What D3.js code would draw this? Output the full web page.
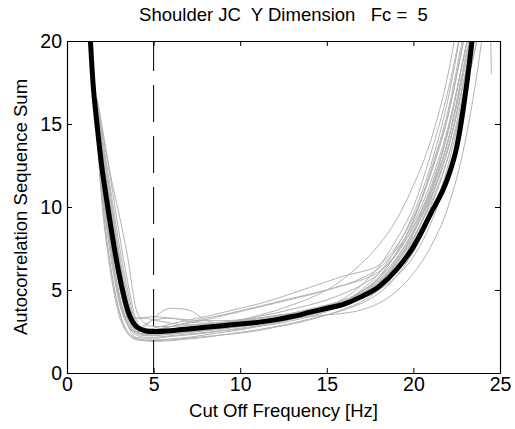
<!DOCTYPE html>
<html>
<head>
<meta charset="utf-8">
<script src="https://cdn.jsdelivr.net/npm/d3@7/dist/d3.min.js"></script>
<style>
  html, body { margin: 0; padding: 0; background: #fff; }
  svg { display: block; }
  text { font-family: "Liberation Sans", Arial, sans-serif; fill: #000; white-space: pre; }
</style>
</head>
<body>
<svg id="chart" width="515" height="429"></svg>
<script>
// ---- data ----
const title = "Shoulder JC  Y Dimension   Fc =  5";
const xLabel = "Cut Off Frequency [Hz]";
const yLabel = "Autocorrelation Sequence Sum";
const xTicks = [0, 5, 10, 15, 20, 25];
const yTicks = [0, 5, 10, 15, 20];
const cutoff = 5;

const greyFreq = [1.75, 2, 2.5, 3, 3.5, 4, 4.5, 5, 6, 7, 8, 9, 10, 11, 12, 13, 14, 15, 16, 17, 18, 19, 20, 21, 22, 23, 24, 24.5];
const grey01 = [14.5, 11.0, 6.5, 3.8, 2.4, 2.0, 1.95, 1.95, 2.0, 2.1, 2.2, 2.3, 2.4, 2.55, 2.75, 2.95, 3.2, 3.5, 3.85, 4.3, 5.0, 6.1, 7.7, 10.0, 13.0, 17.5, 23, 27];
const grey02 = [15.5, 12.5, 8.0, 4.8, 2.9, 2.15, 2.1, 2.1, 2.2, 2.3, 2.4, 2.55, 2.7, 2.85, 3.05, 3.25, 3.5, 3.8, 4.1, 4.6, 5.4, 6.6, 8.4, 10.8, 14.0, 19.0, 24, 28];
const grey03 = [16.2, 13.8, 10.0, 6.8, 3.9, 2.5, 2.3, 2.3, 2.4, 2.5, 2.6, 2.7, 2.8, 2.95, 3.1, 3.3, 3.55, 3.9, 4.3, 5.0, 6.0, 7.5, 9.6, 12.5, 16.5, 22, 27, 30];
const grey04 = [16.5, 15.0, 12.0, 9.6, 7.0, 3.8, 3.0, 2.8, 2.8, 2.85, 2.95, 3.05, 3.15, 3.3, 3.45, 3.6, 3.8, 4.0, 4.3, 4.8, 5.5, 6.6, 8.2, 10.2, 13.0, 17.0, 22, 26];
const grey05 = [15.8, 13.2, 9.0, 5.5, 3.3, 2.6, 2.8, 3.3, 3.9, 3.8, 3.2, 2.9, 2.9, 3.0, 3.15, 3.35, 3.6, 3.9, 4.3, 4.9, 5.8, 7.2, 9.2, 12.0, 15.5, 20.5, 25, 29];
const grey06 = [15.0, 12.0, 7.8, 4.6, 3.3, 3.3, 3.3, 3.2, 3.0, 2.9, 2.9, 3.0, 3.1, 3.25, 3.4, 3.6, 3.85, 4.1, 4.4, 4.9, 5.6, 6.8, 8.6, 11.0, 14.5, 19.5, 24, 28];
const grey07 = [15.5, 12.8, 9.2, 6.0, 3.6, 2.7, 2.6, 2.7, 2.95, 3.2, 3.4, 3.65, 3.9, 4.15, 4.45, 4.8, 5.15, 5.5, 5.85, 6.1, 6.5, 7.6, 9.4, 12.0, 15.5, 20.5, 25, 29];
const grey08 = [14.8, 11.5, 7.5, 4.5, 2.9, 2.4, 2.35, 2.45, 2.8, 3.05, 3.3, 3.5, 3.75, 4.0, 4.25, 4.5, 4.75, 5.0, 5.3, 5.6, 6.1, 7.1, 8.8, 11.2, 14.6, 19.5, 24, 28];
const grey09 = [16.0, 14.0, 10.5, 7.0, 4.2, 2.7, 2.45, 2.45, 2.55, 2.7, 2.85, 3.0, 3.2, 3.45, 3.75, 4.1, 4.5, 5.0, 5.7, 6.6, 7.7, 9.2, 11.3, 14.0, 18.0, 24, 30, 34];
const grey10 = [14.0, 10.5, 6.2, 3.5, 2.4, 2.05, 2.0, 2.0, 2.05, 2.15, 2.3, 2.45, 2.6, 2.8, 3.0, 3.25, 3.55, 3.9, 4.3, 4.9, 5.7, 6.9, 8.5, 10.6, 13.6, 18.0, 23, 27];
const grey11 = [16.3, 14.5, 11.2, 7.8, 5.0, 3.0, 2.6, 2.55, 2.6, 2.7, 2.8, 2.9, 3.0, 3.1, 3.2, 3.3, 3.4, 3.5, 3.6, 3.8, 4.2, 4.9, 6.0, 7.6, 10.0, 14.0, 20.5, 25];
const grey12 = [15.6, 13.0, 9.6, 6.2, 3.6, 2.5, 2.35, 2.35, 2.45, 2.55, 2.65, 2.75, 2.9, 3.05, 3.2, 3.4, 3.6, 3.85, 4.1, 4.5, 5.0, 5.8, 7.0, 9.0, 12.0, 16.0, 40, 18];
const grey13 = [15.2, 12.3, 8.5, 5.3, 3.2, 2.4, 2.25, 2.25, 2.35, 2.45, 2.55, 2.65, 2.8, 2.95, 3.1, 3.3, 3.5, 3.75, 4.05, 4.5, 5.2, 6.3, 8.0, 10.4, 13.5, 18.0, 24, 28];
const grey14 = [15.0, 11.8, 7.8, 4.8, 3.0, 2.3, 2.15, 2.15, 2.25, 2.35, 2.45, 2.55, 2.65, 2.8, 2.95, 3.15, 3.4, 3.7, 4.1, 4.7, 5.7, 7.2, 9.2, 12.2, 15.8, 21.0, 26, 30];
const grey15 = [16.4, 14.8, 11.8, 8.5, 5.5, 3.2, 2.6, 2.5, 2.6, 2.75, 2.9, 3.05, 3.2, 3.4, 3.6, 3.85, 4.1, 4.4, 4.8, 5.3, 6.0, 7.2, 8.8, 11.0, 14.0, 18.5, 24, 28];
const grey16 = [16.0, 13.6, 10.2, 6.8, 3.9, 2.7, 2.9, 3.2, 3.3, 3.1, 3.0, 3.0, 3.05, 3.15, 3.3, 3.5, 3.7, 3.95, 4.25, 4.7, 5.4, 6.5, 8.1, 10.5, 13.5, 18.0, 23, 27];
const grey17 = [14.8, 11.5, 7.2, 4.3, 2.9, 2.5, 2.5, 2.6, 2.8, 3.0, 3.2, 3.45, 3.7, 3.95, 4.2, 4.45, 4.7, 5.0, 5.3, 5.7, 6.3, 7.4, 9.0, 11.5, 14.8, 19.5, 25, 29];
const grey18 = [14.2, 10.8, 6.5, 3.8, 2.5, 2.1, 1.95, 1.9, 1.95, 2.05, 2.15, 2.3, 2.45, 2.6, 2.8, 3.0, 3.25, 3.5, 3.8, 4.2, 4.8, 5.8, 7.3, 9.4, 12.5, 17.0, 22, 26];
const grey19 = [16.2, 14.2, 10.8, 7.3, 4.6, 2.8, 2.4, 2.3, 2.35, 2.45, 2.55, 2.7, 2.85, 3.0, 3.2, 3.4, 3.65, 4.0, 4.5, 5.3, 6.4, 8.0, 10.0, 13.2, 17.0, 22, 27, 30];
const grey20 = [15.8, 13.0, 9.4, 6.0, 3.6, 3.3, 3.35, 3.4, 3.3, 3.2, 3.15, 3.15, 3.2, 3.3, 3.45, 3.6, 3.8, 4.05, 4.35, 4.8, 5.5, 6.7, 8.4, 10.8, 14.0, 18.8, 24, 28];
const greySeries = [grey01, grey02, grey03, grey04, grey05, grey06, grey07, grey08, grey09, grey10,
                    grey11, grey12, grey13, grey14, grey15, grey16, grey17, grey18, grey19, grey20];

const meanFreq = [1.3, 1.5, 1.75, 2, 2.25, 2.5, 2.75, 3, 3.25, 3.5, 3.75, 4, 4.5, 5, 6, 7, 8, 9, 10, 11, 12, 13, 14, 15, 16, 17, 18, 19, 20, 21, 22, 22.5, 23, 23.5];
const meanVals = [21, 17.5, 14.8, 12.5, 10.7, 9.0, 7.4, 6.0, 4.8, 3.8, 3.15, 2.8, 2.55, 2.5, 2.55, 2.65, 2.75, 2.85, 2.95, 3.05, 3.2, 3.4, 3.65, 3.9, 4.15, 4.6, 5.2, 6.2, 7.6, 9.6, 11.8, 13.6, 16.8, 21];

(function () {
// ---- layout ----
const svg = d3.select("#chart");
const mLeft = 67, mRight = 500, mTop = 41, mBottom = 373;
const x = d3.scaleLinear().domain([0, 25]).range([mLeft, mRight]);
const y = d3.scaleLinear().domain([0, 20]).range([mBottom, mTop]);

svg.append("defs").append("clipPath").attr("id", "clip")
  .append("rect").attr("x", mLeft).attr("y", mTop).attr("width", mRight - mLeft).attr("height", mBottom - mTop);

const plot = svg.append("g").attr("clip-path", "url(#clip)");

const line = d3.line().curve(d3.curveMonotoneX);

greySeries.forEach(vals => {
  plot.append("path")
    .attr("d", line(vals.map((v, i) => [x(greyFreq[i]), y(v)])))
    .attr("fill", "none")
    .attr("stroke", "#b3b3b3")
    .attr("stroke-width", 1);
});

plot.append("path")
  .attr("d", line(meanVals.map((v, i) => [x(meanFreq[i]), y(v)])))
  .attr("fill", "none")
  .attr("stroke", "#000")
  .attr("stroke-width", 5)
  .attr("stroke-linejoin", "round");

// cutoff line
svg.append("line")
  .attr("x1", x(cutoff)).attr("x2", x(cutoff))
  .attr("y1", y(20)).attr("y2", y(0))
  .attr("stroke", "#000").attr("stroke-width", 1)
  .attr("stroke-dasharray", "37,14")
  .attr("stroke-dashoffset", 7);

// axes
const fontSize = 19.5;
const axB = svg.append("g").attr("transform", `translate(0,${mBottom})`)
  .call(d3.axisBottom(x).tickValues(xTicks).tickSizeInner(-5).tickSizeOuter(0).tickPadding(4).tickFormat(d3.format("d")));
const axL = svg.append("g").attr("transform", `translate(${mLeft},0)`)
  .call(d3.axisLeft(y).tickValues(yTicks).tickSizeInner(-5).tickSizeOuter(0).tickPadding(5).tickFormat(d3.format("d")));
const axT = svg.append("g").attr("transform", `translate(0,${mTop})`)
  .call(d3.axisTop(x).tickValues(xTicks).tickSizeInner(-5).tickSizeOuter(0).tickFormat(""));
const axR = svg.append("g").attr("transform", `translate(${mRight},0)`)
  .call(d3.axisRight(y).tickValues(yTicks).tickSizeInner(-5).tickSizeOuter(0).tickFormat(""));

[axB, axL, axT, axR].forEach(g => {
  g.selectAll("path.domain").attr("stroke", "#000").attr("stroke-width", 1.2);
  g.selectAll(".tick line").attr("stroke", "#000");
  g.selectAll(".tick text").style("font-family", "'Liberation Sans', Arial, sans-serif")
    .style("font-size", fontSize + "px").attr("fill", "#000");
});

svg.append("text")
  .attr("x", (mLeft + mRight) / 2).attr("y", 21)
  .attr("text-anchor", "middle")
  .style("font-size", "18.5px")
  .text(title);

svg.append("text")
  .attr("x", (mLeft + mRight) / 2).attr("y", 417)
  .attr("text-anchor", "middle")
  .style("font-size", "18.5px")
  .text(xLabel);

svg.append("text")
  .attr("transform", `translate(27,${(mTop + mBottom) / 2}) rotate(-90)`)
  .attr("text-anchor", "middle")
  .style("font-size", "18.5px")
  .text(yLabel);
})();
</script>
</body>
</html>
